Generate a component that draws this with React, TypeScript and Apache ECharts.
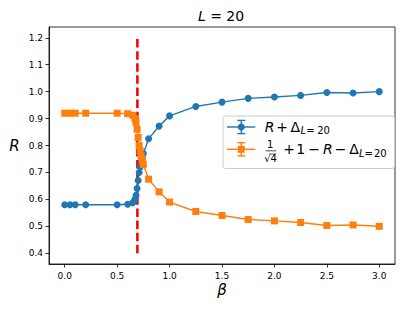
import React, { useEffect, useRef } from "react";
import * as echarts from "echarts";

// ---- data ----
const betaValues = [0, 0.05, 0.1, 0.2, 0.5, 0.6, 0.65, 0.67, 0.68, 0.69, 0.7, 0.71, 0.72, 0.73, 0.74, 0.75, 0.8, 0.9, 1.0, 1.25, 1.5, 1.75, 2.0, 2.25, 2.5, 2.75, 3.0];
const blueValues = [0.58, 0.58, 0.58, 0.58, 0.58, 0.582, 0.588, 0.6, 0.615, 0.64, 0.67, 0.7, 0.72, 0.74, 0.755, 0.77, 0.825, 0.872, 0.91, 0.945, 0.961, 0.975, 0.98, 0.986, 0.997, 0.995, 1.0];
const orangeValues = [0.92, 0.92, 0.92, 0.92, 0.92, 0.918, 0.912, 0.9, 0.885, 0.86, 0.83, 0.8, 0.78, 0.76, 0.745, 0.73, 0.675, 0.628, 0.59, 0.555, 0.54, 0.525, 0.52, 0.514, 0.503, 0.505, 0.5];
const xTicks = [0, 0.5, 1.0, 1.5, 2.0, 2.5, 3.0];
const yTicks = [0.4, 0.5, 0.6, 0.7, 0.8, 0.9, 1.0, 1.1, 1.2];
const criticalBeta = 0.693;
const criticalRange = [0.4, 1.2];

const BLUE = "#1f77b4";
const ORANGE = "#ff7f0e";
const FONT = "DejaVu Sans";

function txt(text: string, x: number, y: number, size: number, italic = false): any {
  return {
    type: "text",
    x,
    y,
    z: 101,
    style: {
      text,
      fontSize: size,
      fontFamily: FONT,
      fontStyle: italic ? "italic" : "normal",
      fill: "#000",
      align: "center",
      verticalAlign: "middle",
    },
  };
}

function seg(x1: number, y1: number, x2: number, y2: number, stroke: string, w: number): any {
  return { type: "line", z: 101, shape: { x1, y1, x2, y2 }, style: { stroke, lineWidth: w } };
}

function legendIcon(cy: number, color: string, square: boolean): any[] {
  const cx = 241.3;
  const els: any[] = [
    seg(227, cy, 255.3, cy, color, 1.4),
    seg(cx, cy - 6.6, cx, cy + 6.6, color, 1.4),
    seg(cx - 4, cy - 6.6, cx + 4, cy - 6.6, color, 1.4),
    seg(cx - 4, cy + 6.6, cx + 4, cy + 6.6, color, 1.4),
  ];
  if (square) {
    els.push({ type: "rect", z: 102, shape: { x: cx - 3.5, y: cy - 3.5, width: 7, height: 7 }, style: { fill: color } });
  } else {
    els.push({ type: "circle", z: 102, shape: { cx, cy, r: 3.6 }, style: { fill: color } });
  }
  return els;
}

export default function App() {
  const ref = useRef<HTMLDivElement>(null);

  useEffect(() => {
    if (!ref.current) return;
    const chart = echarts.init(ref.current, undefined, { renderer: "svg" });

    const axisCommon = {
      type: "value" as const,
      splitLine: { show: false },
      axisLine: { show: true, onZero: false, lineStyle: { color: "#000", width: 0.8 } },
    };

    const graphic: any[] = [
      // title
      {
        type: "text",
        x: 221,
        y: 16,
        z: 101,
        style: {
          text: "{i|L} = 20",
          fontSize: 14,
          fontFamily: FONT,
          fill: "#000",
          align: "center",
          verticalAlign: "middle",
          rich: { i: { fontStyle: "italic", fontSize: 14, fontFamily: FONT, fill: "#000" } },
        },
      },
      // axis names
      txt("R", 14.5, 145.5, 15, true),
      txt("β", 222, 290, 15, true),
      // legend frame
      {
        type: "rect",
        z: 100,
        shape: { x: 223, y: 116, width: 171.5, height: 52.5, r: 2.5 },
        style: { fill: "rgba(255,255,255,0.8)", stroke: "#cccccc", lineWidth: 1 },
      },
      ...legendIcon(127, BLUE, false),
      ...legendIcon(149.3, ORANGE, true),
      // entry 1: R + Δ_{L=20}
      txt("R", 269.5, 127.3, 14, true),
      txt("+", 282, 127.3, 14),
      txt("Δ", 295.3, 127.3, 14),
      txt("L", 303.2, 130.8, 10, true),
      txt("=", 310.5, 130.8, 10),
      txt("20", 323.5, 130.8, 10),
      // entry 2: 1/√4 + 1 − R − Δ_{L=20}
      txt("1", 270.2, 144.6, 10),
      seg(265.5, 150.8, 276.3, 150.8, "#000", 0.7),
      txt("√4", 270.6, 158.1, 10),
      seg(269.3, 154, 276.3, 154, "#000", 0.6),
      txt("+", 289.2, 149.3, 14),
      txt("1", 300.8, 149.3, 14),
      txt("−", 314, 149.3, 14),
      txt("R", 327.8, 149.3, 14, true),
      txt("−", 340.7, 149.3, 14),
      txt("Δ", 354, 149.3, 14),
      txt("L", 361.7, 153.3, 10, true),
      txt("=", 368.7, 153.3, 10),
      txt("20", 380.3, 153.3, 10),
    ];

    chart.setOption({
      animation: false,
      grid: {
        left: 49,
        top: 27,
        right: 20,
        bottom: 47,
        show: true,
        borderColor: "#000",
        borderWidth: 0.8,
        backgroundColor: "transparent",
      },
      xAxis: {
        ...axisCommon,
        min: -0.15,
        max: 3.15,
        axisTick: { show: true, length: 3.5, customValues: xTicks, lineStyle: { color: "#000", width: 0.8 } },
        axisLabel: {
          customValues: xTicks,
          formatter: (v: number) => v.toFixed(1),
          fontSize: 9,
          fontFamily: FONT,
          color: "#000",
          margin: 7,
        },
      },
      yAxis: {
        ...axisCommon,
        min: 0.36,
        max: 1.24,
        axisTick: { show: true, length: 3.5, customValues: yTicks, lineStyle: { color: "#000", width: 0.8 } },
        axisLabel: {
          customValues: yTicks,
          formatter: (v: number) => v.toFixed(1),
          fontSize: 9,
          fontFamily: FONT,
          color: "#000",
          margin: 6,
        },
      },
      series: [
        {
          type: "line",
          data: criticalRange.map((y) => [criticalBeta, y]),
          symbol: "none",
          z: 1,
          lineStyle: { color: "#ff0000", width: 2.6, type: [8.5, 3.6] },
        },
        {
          type: "line",
          data: betaValues.map((b, i) => [b, blueValues[i]]),
          symbol: "circle",
          symbolSize: 7,
          z: 2,
          itemStyle: { color: BLUE },
          lineStyle: { color: BLUE, width: 1.4 },
        },
        {
          type: "line",
          data: betaValues.map((b, i) => [b, orangeValues[i]]),
          symbol: "rect",
          symbolSize: 7,
          z: 3,
          itemStyle: { color: ORANGE },
          lineStyle: { color: ORANGE, width: 1.4 },
        },
      ],
      graphic,
    });

    return () => chart.dispose();
  }, []);

  return (
    <div
      ref={ref}
      style={{ position: "fixed", left: 0, top: 0, width: 415, height: 311, background: "#fff" }}
    />
  );
}
